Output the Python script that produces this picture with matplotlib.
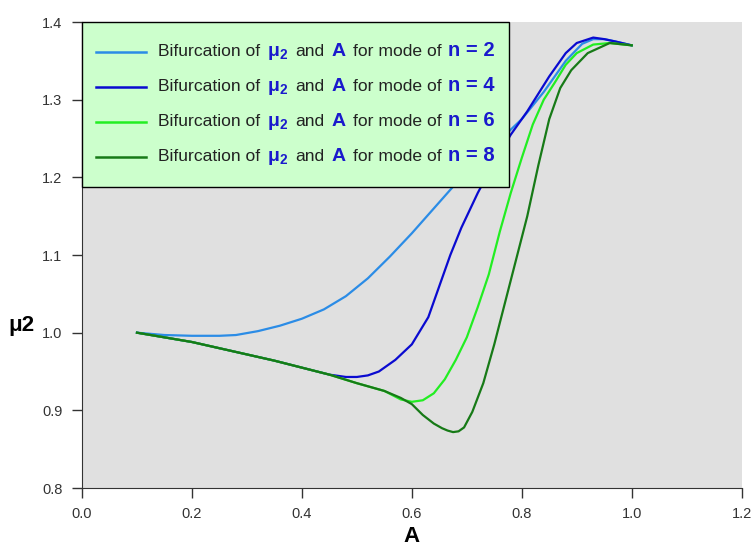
import matplotlib
matplotlib.use("Agg")
import matplotlib.pyplot as plt
from matplotlib.offsetbox import AnchoredOffsetbox, HPacker, VPacker, TextArea, DrawingArea
from matplotlib.lines import Line2D

plt.rcParams['font.family'] = ['Liberation Sans', 'DejaVu Sans']
plt.rcParams['mathtext.fontset'] = 'custom'
plt.rcParams['mathtext.rm'] = 'Liberation Sans'
plt.rcParams['mathtext.bf'] = 'Liberation Sans:bold'

# === Datos ===
A2 = [0.10, 0.15, 0.20, 0.25, 0.28, 0.32, 0.36, 0.40, 0.44, 0.48, 0.52, 0.56, 0.60,
      0.64, 0.68, 0.72, 0.76, 0.80, 0.84, 0.88, 0.91, 0.93, 0.95, 0.97, 1.00]
mu2_n2 = [1.000, 0.997, 0.996, 0.996, 0.997, 1.002, 1.009, 1.018, 1.030, 1.047, 1.070, 1.098, 1.128,
          1.160, 1.192, 1.222, 1.248, 1.275, 1.310, 1.350, 1.372, 1.378, 1.378, 1.375, 1.370]

A4 = [0.10, 0.15, 0.20, 0.25, 0.30, 0.35, 0.40, 0.45, 0.48, 0.50, 0.52, 0.54, 0.57, 0.60,
      0.63, 0.65, 0.67, 0.69, 0.72, 0.75, 0.78, 0.81, 0.85, 0.88, 0.90, 0.93, 0.95, 0.97, 1.00]
mu2_n4 = [1.000, 0.994, 0.988, 0.980, 0.972, 0.964, 0.955, 0.946, 0.943, 0.943, 0.945, 0.950, 0.965, 0.985,
          1.020, 1.060, 1.100, 1.135, 1.180, 1.220, 1.255, 1.285, 1.330, 1.360, 1.373, 1.380, 1.378, 1.375, 1.370]

A6 = [0.10, 0.15, 0.20, 0.25, 0.30, 0.35, 0.40, 0.45, 0.50, 0.55, 0.58, 0.60, 0.62, 0.64, 0.66,
      0.68, 0.70, 0.72, 0.74, 0.76, 0.78, 0.80, 0.82, 0.84, 0.86, 0.88, 0.90, 0.93, 0.96, 1.00]
mu2_n6 = [1.000, 0.994, 0.988, 0.980, 0.972, 0.964, 0.955, 0.946, 0.935, 0.925, 0.914, 0.911, 0.913, 0.922, 0.940,
          0.965, 0.994, 1.033, 1.075, 1.130, 1.180, 1.225, 1.268, 1.300, 1.322, 1.345, 1.360, 1.371, 1.373, 1.370]

A8 = [0.10, 0.15, 0.20, 0.25, 0.30, 0.35, 0.40, 0.45, 0.50, 0.55, 0.58, 0.60, 0.62, 0.64, 0.655, 0.665,
      0.675, 0.685, 0.695, 0.71, 0.73, 0.75, 0.77, 0.79, 0.81, 0.83, 0.85, 0.87, 0.89, 0.92, 0.96, 1.00]
mu2_n8 = [1.000, 0.994, 0.988, 0.980, 0.972, 0.964, 0.955, 0.946, 0.935, 0.925, 0.916, 0.908, 0.894, 0.883, 0.877, 0.874,
          0.872, 0.873, 0.878, 0.898, 0.935, 0.985, 1.040, 1.095, 1.150, 1.215, 1.275, 1.315, 1.338, 1.360, 1.373, 1.370]

modos = [2, 4, 6, 8]
series = [(A2, mu2_n2), (A4, mu2_n4), (A6, mu2_n6), (A8, mu2_n8)]
colores = ['#2b8ce6', '#0a0ad0', '#22ee22', '#177a17']

# === Figura ===
fig = plt.figure(figsize=(7.56, 5.51), dpi=100)
ax = fig.add_axes([0.1085, 0.1143, 0.8725, 0.8457])
ax.set_facecolor('#e0e0e0')

for (x, y), c in zip(series, colores):
    ax.plot(x, y, color=c, linewidth=1.6, solid_joinstyle='round')

ax.set_xlim(0, 1.2)
ax.set_ylim(0.8, 1.4)
ax.set_xticks([0.0, 0.2, 0.4, 0.6, 0.8, 1.0, 1.2])
ax.set_yticks([0.8, 0.9, 1.0, 1.1, 1.2, 1.3, 1.4])
ax.xaxis.set_major_formatter(matplotlib.ticker.FormatStrFormatter('%.1f'))
ax.yaxis.set_major_formatter(matplotlib.ticker.FormatStrFormatter('%.1f'))
ax.tick_params(direction='out', length=7, width=1, labelsize=10.5, labelcolor='#333333',
               color='#333333', pad=7)
for s in ['top', 'right']:
    ax.spines[s].set_visible(False)
for s in ['left', 'bottom']:
    ax.spines[s].set_color('#333333')

ax.set_xlabel('A', fontsize=16, fontweight='bold', labelpad=3)
fig.text(0.028, 0.41, 'μ2', fontsize=16, fontweight='bold', ha='center', va='center')

# === Leyenda con texto en varios colores ===
azul = '#1a1acc'
filas = []
for n, c in zip(modos, colores):
    da = DrawingArea(36, 10, 0, 0)
    da.add_artist(Line2D([0, 36], [5, 5], color=c, linewidth=1.8))
    partes = [
        TextArea('Bifurcation of', textprops=dict(color='#222222', fontsize=12.6)),
        TextArea(r'$\mathbf{\mu_2}$', textprops=dict(color=azul, fontsize=14)),
        TextArea('and', textprops=dict(color='#222222', fontsize=12.6)),
        TextArea('A', textprops=dict(color=azul, fontsize=14, fontweight='bold')),
        TextArea('for mode of', textprops=dict(color='#222222', fontsize=12.6)),
        TextArea(f'n = {n}', textprops=dict(color=azul, fontsize=14.5, fontweight='bold')),
    ]
    texto = HPacker(children=partes, align='baseline', pad=0, sep=5)
    filas.append(HPacker(children=[da, texto], align='center', pad=0, sep=9))

interior = VPacker(children=filas, align='left', pad=0, sep=10)
caja = VPacker(children=[DrawingArea(1, 4, 0, 0), interior, DrawingArea(1, 4, 0, 0)],
               align='left', pad=0, sep=0)
leyenda = AnchoredOffsetbox(loc='upper left', child=caja, pad=1.0, borderpad=0,
                            frameon=True, bbox_to_anchor=(0, 1), bbox_transform=ax.transAxes)
leyenda.patch.set_facecolor('#ccffcc')
leyenda.patch.set_edgecolor('black')
leyenda.patch.set_linewidth(1.0)
leyenda.patch.set_boxstyle('square', pad=0)
ax.add_artist(leyenda)

fig.savefig('out.png', dpi=100, facecolor='white')
